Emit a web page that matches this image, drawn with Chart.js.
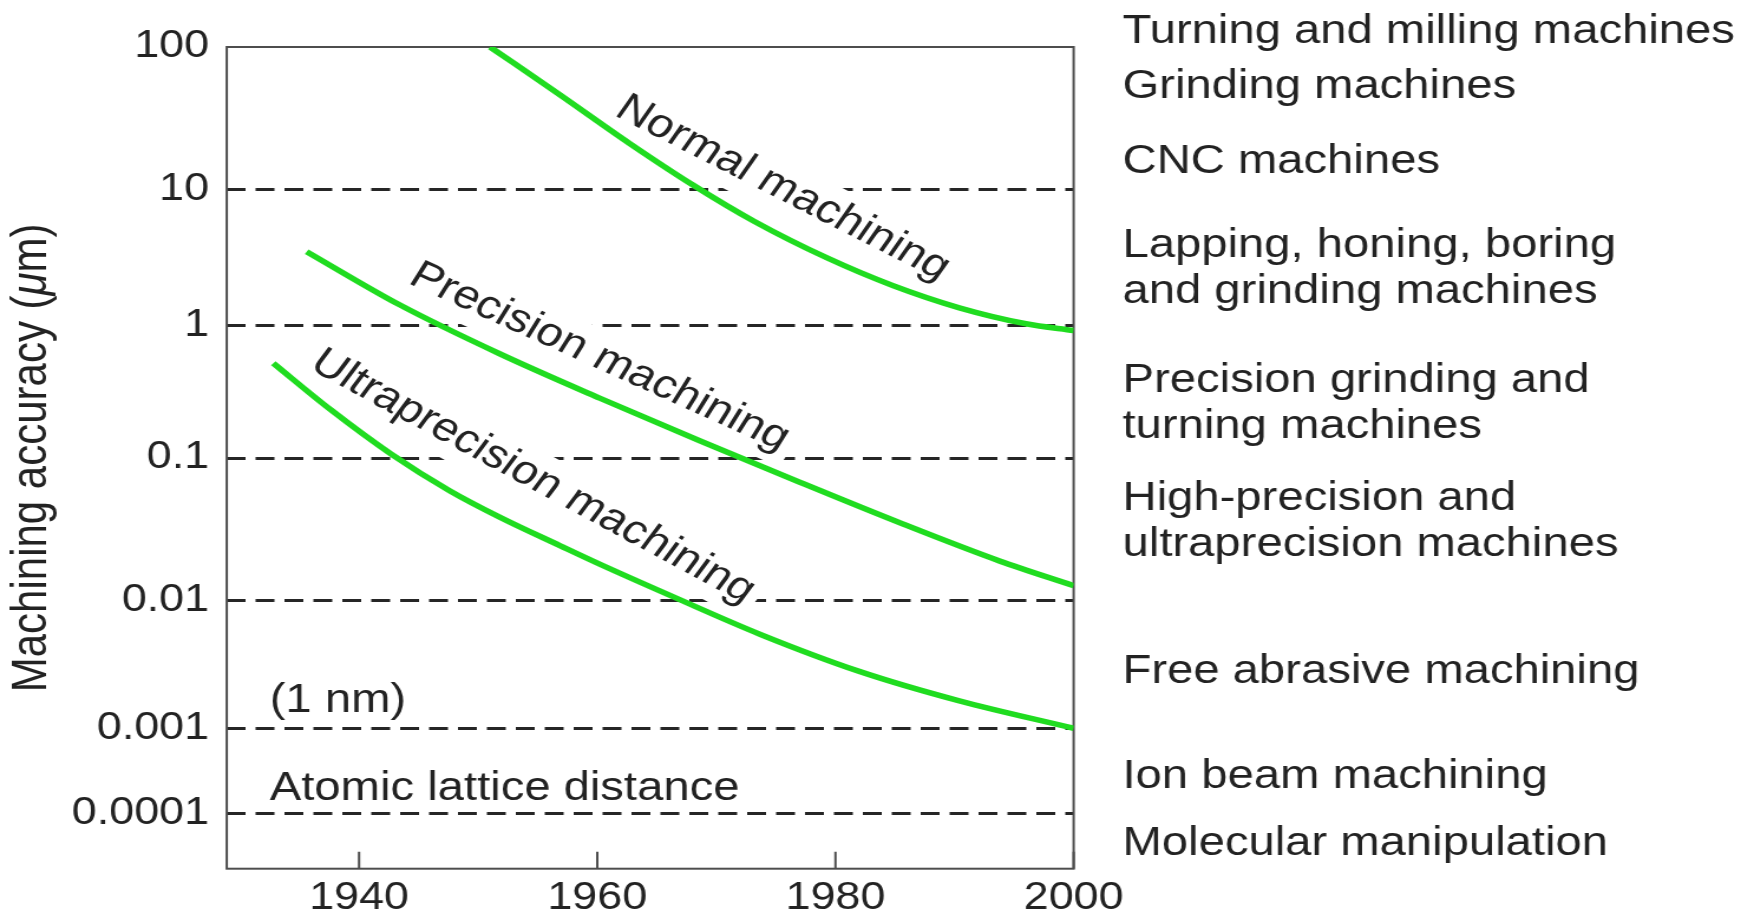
<!DOCTYPE html>
<html lang="en">
<head>
<meta charset="UTF-8">
<title>Machining accuracy 1930-2000</title>
<script src="https://cdn.jsdelivr.net/npm/chart.js@4"></script>
<style>
  html, body { margin: 0; padding: 0; background: #fff; overflow: hidden; }
  canvas { display: block; }
</style>
</head>
<body>
<!-- laid out on a narrower canvas and widened to the page width -->
<canvas id="chart" width="1486" height="915" style="width:1754px;height:915px"></canvas>
<script>
// Achievable machining accuracy (micrometres) by year
const normalYears = [1951.0, 1956.9, 1962.7, 1968.0, 1973.2, 1979.3, 1984.8, 1990.4, 1996.0, 2000];
const normalValues = [100, 46.0, 21.1, 10.8, 5.82, 3.14, 1.97, 1.35, 1.03, 0.917];

const precisionYears = [1935.6, 1943.4, 1951.8, 1960.2, 1968.6, 1977.0, 1985.4, 1993.8, 2000];
const precisionValues = [3.49, 1.42, 0.612, 0.283, 0.135, 0.0676, 0.0351, 0.0189, 0.0127];

const ultraYears = [1932.8, 1937.6, 1942.7, 1947.6, 1951.8, 1956.9, 1960.2, 1966.4, 1973.7, 1982.0, 1990.4, 2000];
const ultraValues = [0.519, 0.232, 0.107, 0.059, 0.0385, 0.0242, 0.018, 0.0106, 0.00543, 0.00279, 0.00164, 0.001];

const xTicks = [1940, 1960, 1980, 2000];
const yTicks = [100, 10, 1, 0.1, 0.01, 0.001, 0.0001];
const yTickLabels = ['100', '10', '1', '0.1', '0.01', '0.001', '0.0001'];

const machineClasses = [
  ['Turning and milling machines'],
  ['Grinding machines'],
  ['CNC machines'],
  ['Lapping, honing, boring', 'and grinding machines'],
  ['Precision grinding and', 'turning machines'],
  ['High-precision and', 'ultraprecision machines'],
  ['Free abrasive machining'],
  ['Ion beam machining'],
  ['Molecular manipulation']
];

const FONT = '"Liberation Sans", Arial, Helvetica, sans-serif';
const INK = '#222';
const GREEN = '#20dc20';

// Log axis whose decades are not all drawn the same height
// (the last decade, down to atomic distances, is squeezed).
const decadeHeights = [142.5, 136, 132.5, 142.5, 127.8, 85]; // from 100 down to 0.0001
const topDecade = 2;

class DecadeLogScale extends Chart.LogarithmicScale {
  depth(lg) {
    let d = 0, edge = topDecade;
    if (lg >= edge) return -(lg - edge) * decadeHeights[0];
    for (const h of decadeHeights) {
      if (lg >= edge - 1) return d + (edge - lg) * h;
      d += h;
      edge -= 1;
    }
    return d + (edge - lg) * decadeHeights[decadeHeights.length - 1];
  }
  getPixelForValue(value) {
    if (value === undefined || value === null || isNaN(value) || value <= 0) return NaN;
    const dTop = this.depth(Math.log10(this.max));
    const dBottom = this.depth(Math.log10(this.min));
    return this.getPixelForDecimal((dBottom - this.depth(Math.log10(value))) / (dBottom - dTop));
  }
}
DecadeLogScale.id = 'decadeLog';
Chart.register(DecadeLogScale);

// text placed on the plot
const curveLabels = [
  { text: 'Normal machining', year: 1975.6, value: 10.2, angle: 31.0 },
  { text: 'Precision machining', year: 1960.2, value: 0.578, angle: 28.0 },
  { text: 'Ultraprecision machining', year: 1954.6, value: 0.074, angle: 32.5 }
];
const plotNotes = [
  { text: '(1 nm)', year: 1932.5, value: 0.00135 },
  { text: 'Atomic lattice distance', year: 1932.5, value: 0.000143 }
];
const classX = 951;
const classBaselines = [42.7, 98.3, 173.3, 256.7, 391.7, 510, 683.3, 788.3, 855];
const classLineHeight = 46;

// y axis title, with the mu set in italic
function drawAxisTitle(ctx, cx, cy) {
  const parts = [
    ['Machining accuracy (', 'normal'],
    ['μ', 'italic'],
    ['m)', 'normal']
  ];
  const widths = parts.map(([t, s]) => {
    ctx.font = s + ' 42px ' + FONT;
    return ctx.measureText(t).width;
  });
  const total = widths.reduce((a, b) => a + b, 0);
  ctx.save();
  ctx.translate(cx, cy);
  ctx.rotate(-Math.PI / 2);
  ctx.textAlign = 'left';
  ctx.textBaseline = 'middle';
  let pos = -total / 2;
  parts.forEach(([t, s], i) => {
    ctx.font = s + ' 42px ' + FONT;
    ctx.fillText(t, pos, 0);
    pos += widths[i];
  });
  ctx.restore();
}

const decor = {
  id: 'decor',
  beforeDatasetsDraw(chart) {
    const { ctx, chartArea: a, scales: { x, y } } = chart;
    ctx.save();
    // white bands behind the curve names break the dashed lines
    ctx.font = '40px ' + FONT;
    ctx.fillStyle = '#fff';
    curveLabels.forEach(l => {
      const w = ctx.measureText(l.text).width + 14;
      ctx.save();
      ctx.translate(x.getPixelForValue(l.year), y.getPixelForValue(l.value));
      ctx.rotate(l.angle * Math.PI / 180);
      ctx.fillRect(-w / 2, -26, w, 52);
      ctx.restore();
    });
    // frame
    ctx.strokeStyle = '#4d4d4d';
    ctx.lineWidth = 2;
    ctx.strokeRect(a.left, a.top, a.right - a.left, a.bottom - a.top);
    // year ticks point into the plot
    ctx.beginPath();
    xTicks.forEach(t => {
      const px = x.getPixelForValue(t);
      ctx.moveTo(px, a.bottom);
      ctx.lineTo(px, a.bottom - 17);
    });
    ctx.stroke();
    ctx.restore();
  },
  afterDatasetsDraw(chart) {
    const { ctx, chartArea: a, scales: { x, y } } = chart;
    ctx.save();
    ctx.fillStyle = INK;
    drawAxisTitle(ctx, 27, (a.top + a.bottom) / 2);

    ctx.font = '40px ' + FONT;
    ctx.textAlign = 'center';
    ctx.textBaseline = 'middle';
    curveLabels.forEach(l => {
      ctx.save();
      ctx.translate(x.getPixelForValue(l.year), y.getPixelForValue(l.value));
      ctx.rotate(l.angle * Math.PI / 180);
      ctx.fillText(l.text, 0, 0);
      ctx.restore();
    });

    ctx.textAlign = 'left';
    ctx.textBaseline = 'alphabetic';
    plotNotes.forEach(n => {
      ctx.fillText(n.text, x.getPixelForValue(n.year), y.getPixelForValue(n.value));
    });

    machineClasses.forEach((lines, i) => {
      lines.forEach((line, j) => {
        ctx.fillText(line, classX, classBaselines[i] + j * classLineHeight);
      });
    });
    ctx.restore();
  }
};

const toPoints = (xs, ys) => xs.map((v, i) => ({ x: v, y: ys[i] }));
const curve = (label, xs, ys) => ({
  label,
  data: toPoints(xs, ys),
  borderColor: GREEN,
  borderWidth: 5.5,
  pointRadius: 0,
  fill: false,
  cubicInterpolationMode: 'monotone'
});

Chart.defaults.font.family = FONT;
Chart.defaults.color = INK;

new Chart(document.getElementById('chart'), {
  type: 'line',
  data: {
    datasets: [
      curve('Normal machining', normalYears, normalValues),
      curve('Precision machining', precisionYears, precisionValues),
      curve('Ultraprecision machining', ultraYears, ultraValues)
    ]
  },
  options: {
    responsive: false,
    devicePixelRatio: 1,
    animation: false,
    events: [],
    layout: { padding: { top: 47, left: 0, right: 576.4, bottom: 0 } },
    plugins: { legend: { display: false }, tooltip: { enabled: false } },
    scales: {
      x: {
        type: 'linear',
        bounds: 'data',
        min: 1928.89,
        max: 2000,
        afterBuildTicks: s => { s.ticks = xTicks.map(v => ({ value: v })); },
        afterFit: s => { s.height = 46.3; },
        grid: { display: false, drawTicks: false },
        border: { display: false },
        ticks: {
          padding: 7,
          maxRotation: 0,
          autoSkip: false,
          color: INK,
          font: { size: 38 },
          callback: v => String(v)
        }
      },
      y: {
        type: 'decadeLog',
        bounds: 'data',
        min: 2.23e-5,
        max: 100,
        afterBuildTicks: s => { s.ticks = yTicks.map(v => ({ value: v })); },
        afterFit: s => { s.width = 192.1; },
        grid: {
          drawTicks: false,
          lineWidth: 3,
          color: c => (c.tick && c.tick.value === 100 ? 'rgba(0,0,0,0)' : '#262626')
        },
        border: { display: false, dash: [16, 8.5] },
        ticks: {
          padding: 15,
          autoSkip: false,
          color: INK,
          font: { size: 38 },
          callback: v => yTickLabels[yTicks.indexOf(v)]
        }
      }
    }
  },
  plugins: [decor]
});
</script>
</body>
</html>
